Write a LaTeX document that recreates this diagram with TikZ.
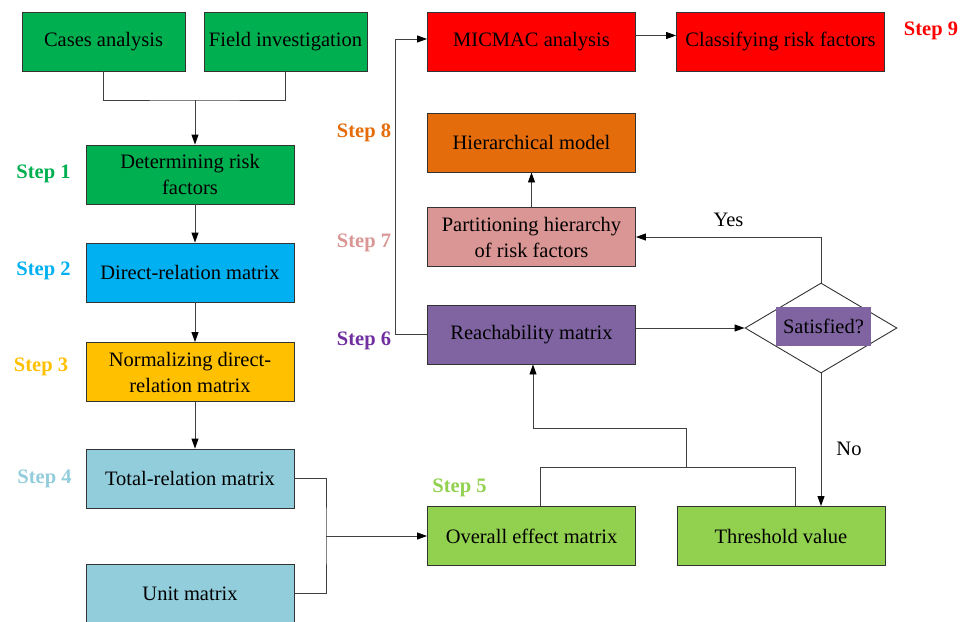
\documentclass[tikz,border=0pt]{standalone}
\usepackage{fontspec}
\setmainfont{Liberation Serif}
\usepackage{tikz}
\usetikzlibrary{arrows.meta,shapes.geometric}
\usepackage{xcolor}

\definecolor{stepgreen}{HTML}{00B050}
\definecolor{stepblue}{HTML}{00B0F0}
\definecolor{stepgold}{HTML}{FFC000}
\definecolor{steplblue}{HTML}{92CDDC}
\definecolor{steplgreen}{HTML}{92D050}
\definecolor{stepred}{HTML}{FF0000}
\definecolor{steporange}{HTML}{E46C0A}
\definecolor{steppink}{HTML}{DA9694}
\definecolor{steppurple}{HTML}{8064A2}
\definecolor{steptext}{HTML}{7030A0}

\begin{document}
\begin{tikzpicture}[x=1pt, y=-1pt,
  box/.style={draw=black!80, line width=0.9pt, minimum width=208pt, minimum height=59pt,
    inner sep=0pt, align=center, font={\fontsize{20.5}{26}\selectfont}},
  smallbox/.style={box, minimum width=163pt},
  steplabel/.style={font={\bfseries\fontsize{20.5}{24}\selectfont}, inner sep=0pt},
  link/.style={draw=black!75, line width=0.9pt},
  arrowlink/.style={link, -{Triangle[length=10pt,width=7pt,color=black]}},
  labeltext/.style={font={\fontsize{20.5}{24}\selectfont}, inner sep=0pt}]

\useasboundingbox (0,0) rectangle (965,621);

% left column
\node [smallbox, fill=stepgreen] (cases) at (103.5, 41.5) {Cases analysis};
\node [smallbox, fill=stepgreen] (field) at (285.5, 41.5) {Field investigation};
\node [box, fill=stepgreen] (determ) at (190, 174.5) {Determining risk\\factors};
\node [box, fill=stepblue] (direct) at (190, 272.5) {Direct-relation matrix};
\node [box, fill=stepgold] (normal) at (190, 372) {Normalizing direct-\\relation matrix};
\node [box, fill=steplblue] (total) at (190, 478.5) {Total-relation matrix};
\node [box, fill=steplblue] (unit) at (190, 593.5) {Unit matrix};

% right columns
\node [box, fill=stepred] (micmac) at (531.5, 41.5) {MICMAC analysis};
\node [box, fill=stepred] (classify) at (780.5, 41.5) {Classifying risk factors};
\node [box, fill=steporange] (hier) at (531.5, 142.5) {Hierarchical model};
\node [box, fill=steppink] (partition) at (531.5, 237) {Partitioning hierarchy\\of risk factors};
\node [box, fill=steppurple] (reach) at (531.5, 334.5) {Reachability matrix};
\node [box, fill=steplgreen] (overall) at (531.5, 536) {Overall effect matrix};
\node [box, fill=steplgreen] (thresh) at (781, 536) {Threshold value};

\node [diamond, draw=black!80, line width=0.9pt, minimum width=152pt, minimum height=90pt, inner sep=0pt] (dia) at (821, 328) {};
\node [labeltext, fill=steppurple, minimum width=95pt, minimum height=39pt] (satisfied) at (823.5, 326.5) {Satisfied?};

% step labels
\node [steplabel, text=stepgreen] (step1) at (43.5, 174) {Step 1};
\node [steplabel, text=stepblue] (step2) at (43.5, 271) {Step 2};
\node [steplabel, text=stepgold] (step3) at (41, 367) {Step 3};
\node [steplabel, text=steplblue] (step4) at (44.5, 479) {Step 4};
\node [steplabel, text=steplgreen] (step5) at (459.5, 488) {Step 5};
\node [steplabel, text=steptext] (step6) at (364, 341) {Step 6};
\node [steplabel, text=steppink] (step7) at (364, 243) {Step 7};
\node [steplabel, text=steporange] (step8) at (364, 133) {Step 8};
\node [steplabel, text=stepred] (step9) at (931, 31) {Step 9};

% connectors
\coordinate (merge) at (195, 100);
\coordinate (join) at (326, 536);
\coordinate (fbl) at (540, 467);
\coordinate (fbr) at (795, 467);
\coordinate (fbup) at (686, 467);
\coordinate (fbturn) at (533, 428);
\coordinate (bend) at (395, 39);

\draw [link] (cases.south) |- (merge) -| (field.south);
\draw [arrowlink] (merge) -- (merge |- determ.north);
\draw [arrowlink] ([xshift=5pt]determ.south) -- ([xshift=5pt]direct.north);
\draw [arrowlink] ([xshift=5pt]direct.south) -- ([xshift=5pt]normal.north);
\draw [arrowlink] ([xshift=5pt]normal.south) -- ([xshift=5pt]total.north);

\draw [link] (total.east) -| (join) |- (unit.east);
\draw [arrowlink] (join) -- (overall.west);

\draw [link] (overall.north -| fbl) -- (fbl) -- (fbr) -- (thresh.north -| fbr);
\draw [arrowlink] (fbup) |- (fbturn) -- (fbturn |- reach.south);

\draw [arrowlink] (reach.east |- dia.west) -- (dia.west);
\draw [arrowlink] (dia.north) |- (partition.east) node [labeltext, pos=0.75, above=10pt] {Yes};
\draw [arrowlink] (dia.south) -- (dia.south |- thresh.north) node [labeltext, pos=0.57, right=15pt] {No};
\draw [arrowlink] (partition.north) -- (hier.south);

\draw [arrowlink] (reach.west) -| (bend) -- (micmac.west |- bend);
\draw [arrowlink] ([yshift=6pt]micmac.east) -- ([yshift=6pt]classify.west);

\end{tikzpicture}
\end{document}
